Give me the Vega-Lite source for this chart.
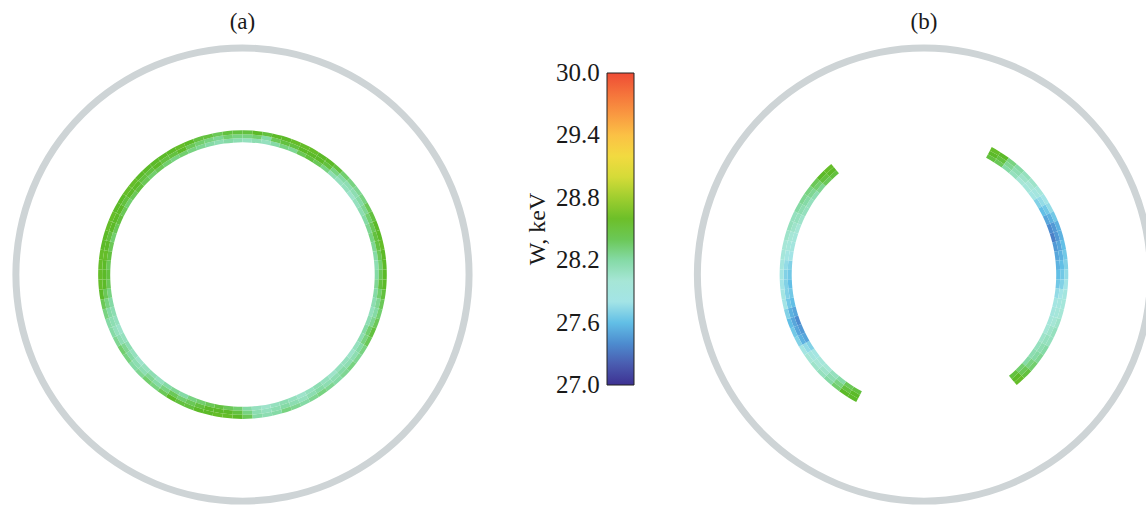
{
"$schema":"https://vega.github.io/schema/vega-lite/v6.json",
"width":1146,"height":508,"padding":0,
"autosize":{"type":"fit","contains":"padding"},
"background":"white",
"config":{"view":{"stroke":null},"font":"Liberation Serif"},
"datasets":{
"panels":[{"p":"(a)"},{"p":"(b)"}],
"ring":[
{"p":"(a)","t":2,"r":46.7,"w":28.1},{"p":"(a)","t":2,"r":48.1,"w":28.3},{"p":"(a)","t":2,"r":49.5,"w":28.45},
{"p":"(a)","t":6,"r":46.7,"w":28.15},{"p":"(a)","t":6,"r":48.1,"w":28.35},{"p":"(a)","t":6,"r":49.5,"w":28.5},
{"p":"(a)","t":10,"r":46.7,"w":28.1},{"p":"(a)","t":10,"r":48.1,"w":28.2},{"p":"(a)","t":10,"r":49.5,"w":28.45},
{"p":"(a)","t":14,"r":46.7,"w":28.2},{"p":"(a)","t":14,"r":48.1,"w":28.4},{"p":"(a)","t":14,"r":49.5,"w":28.5},
{"p":"(a)","t":18,"r":46.7,"w":28.3},{"p":"(a)","t":18,"r":48.1,"w":28.45},{"p":"(a)","t":18,"r":49.5,"w":28.5},
{"p":"(a)","t":22,"r":46.7,"w":28.25},{"p":"(a)","t":22,"r":48.1,"w":28.45},{"p":"(a)","t":22,"r":49.5,"w":28.55},
{"p":"(a)","t":26,"r":46.7,"w":28.4},{"p":"(a)","t":26,"r":48.1,"w":28.5},{"p":"(a)","t":26,"r":49.5,"w":28.55},
{"p":"(a)","t":30,"r":46.7,"w":28.45},{"p":"(a)","t":30,"r":48.1,"w":28.5},{"p":"(a)","t":30,"r":49.5,"w":28.55},
{"p":"(a)","t":34,"r":46.7,"w":28.4},{"p":"(a)","t":34,"r":48.1,"w":28.5},{"p":"(a)","t":34,"r":49.5,"w":28.5},
{"p":"(a)","t":38,"r":46.7,"w":28.3},{"p":"(a)","t":38,"r":48.1,"w":28.45},{"p":"(a)","t":38,"r":49.5,"w":28.5},
{"p":"(a)","t":42,"r":46.7,"w":28.15},{"p":"(a)","t":42,"r":48.1,"w":28.3},{"p":"(a)","t":42,"r":49.5,"w":28.45},
{"p":"(a)","t":46,"r":46.7,"w":28.1},{"p":"(a)","t":46,"r":48.1,"w":28.2},{"p":"(a)","t":46,"r":49.5,"w":28.35},
{"p":"(a)","t":50,"r":46.7,"w":28.1},{"p":"(a)","t":50,"r":48.1,"w":28.15},{"p":"(a)","t":50,"r":49.5,"w":28.3},
{"p":"(a)","t":54,"r":46.7,"w":28.05},{"p":"(a)","t":54,"r":48.1,"w":28.15},{"p":"(a)","t":54,"r":49.5,"w":28.25},
{"p":"(a)","t":58,"r":46.7,"w":28.1},{"p":"(a)","t":58,"r":48.1,"w":28.2},{"p":"(a)","t":58,"r":49.5,"w":28.3},
{"p":"(a)","t":62,"r":46.7,"w":28.15},{"p":"(a)","t":62,"r":48.1,"w":28.25},{"p":"(a)","t":62,"r":49.5,"w":28.4},
{"p":"(a)","t":66,"r":46.7,"w":28.2},{"p":"(a)","t":66,"r":48.1,"w":28.35},{"p":"(a)","t":66,"r":49.5,"w":28.45},
{"p":"(a)","t":70,"r":46.7,"w":28.25},{"p":"(a)","t":70,"r":48.1,"w":28.4},{"p":"(a)","t":70,"r":49.5,"w":28.5},
{"p":"(a)","t":74,"r":46.7,"w":28.3},{"p":"(a)","t":74,"r":48.1,"w":28.45},{"p":"(a)","t":74,"r":49.5,"w":28.5},
{"p":"(a)","t":78,"r":46.7,"w":28.25},{"p":"(a)","t":78,"r":48.1,"w":28.45},{"p":"(a)","t":78,"r":49.5,"w":28.55},
{"p":"(a)","t":82,"r":46.7,"w":28.2},{"p":"(a)","t":82,"r":48.1,"w":28.4},{"p":"(a)","t":82,"r":49.5,"w":28.5},
{"p":"(a)","t":86,"r":46.7,"w":28.15},{"p":"(a)","t":86,"r":48.1,"w":28.35},{"p":"(a)","t":86,"r":49.5,"w":28.5},
{"p":"(a)","t":90,"r":46.7,"w":28.2},{"p":"(a)","t":90,"r":48.1,"w":28.4},{"p":"(a)","t":90,"r":49.5,"w":28.5},
{"p":"(a)","t":94,"r":46.7,"w":28.25},{"p":"(a)","t":94,"r":48.1,"w":28.45},{"p":"(a)","t":94,"r":49.5,"w":28.5},
{"p":"(a)","t":98,"r":46.7,"w":28.2},{"p":"(a)","t":98,"r":48.1,"w":28.35},{"p":"(a)","t":98,"r":49.5,"w":28.45},
{"p":"(a)","t":102,"r":46.7,"w":28.15},{"p":"(a)","t":102,"r":48.1,"w":28.25},{"p":"(a)","t":102,"r":49.5,"w":28.4},
{"p":"(a)","t":106,"r":46.7,"w":28.1},{"p":"(a)","t":106,"r":48.1,"w":28.2},{"p":"(a)","t":106,"r":49.5,"w":28.35},
{"p":"(a)","t":110,"r":46.7,"w":28.15},{"p":"(a)","t":110,"r":48.1,"w":28.25},{"p":"(a)","t":110,"r":49.5,"w":28.4},
{"p":"(a)","t":114,"r":46.7,"w":28.2},{"p":"(a)","t":114,"r":48.1,"w":28.35},{"p":"(a)","t":114,"r":49.5,"w":28.45},
{"p":"(a)","t":118,"r":46.7,"w":28.15},{"p":"(a)","t":118,"r":48.1,"w":28.3},{"p":"(a)","t":118,"r":49.5,"w":28.4},
{"p":"(a)","t":122,"r":46.7,"w":28.1},{"p":"(a)","t":122,"r":48.1,"w":28.2},{"p":"(a)","t":122,"r":49.5,"w":28.3},
{"p":"(a)","t":126,"r":46.7,"w":28.05},{"p":"(a)","t":126,"r":48.1,"w":28.15},{"p":"(a)","t":126,"r":49.5,"w":28.25},
{"p":"(a)","t":130,"r":46.7,"w":28.1},{"p":"(a)","t":130,"r":48.1,"w":28.15},{"p":"(a)","t":130,"r":49.5,"w":28.3},
{"p":"(a)","t":134,"r":46.7,"w":28.1},{"p":"(a)","t":134,"r":48.1,"w":28.2},{"p":"(a)","t":134,"r":49.5,"w":28.25},
{"p":"(a)","t":138,"r":46.7,"w":28.05},{"p":"(a)","t":138,"r":48.1,"w":28.15},{"p":"(a)","t":138,"r":49.5,"w":28.2},
{"p":"(a)","t":142,"r":46.7,"w":28.1},{"p":"(a)","t":142,"r":48.1,"w":28.15},{"p":"(a)","t":142,"r":49.5,"w":28.25},
{"p":"(a)","t":146,"r":46.7,"w":28.15},{"p":"(a)","t":146,"r":48.1,"w":28.2},{"p":"(a)","t":146,"r":49.5,"w":28.3},
{"p":"(a)","t":150,"r":46.7,"w":28.1},{"p":"(a)","t":150,"r":48.1,"w":28.15},{"p":"(a)","t":150,"r":49.5,"w":28.25},
{"p":"(a)","t":154,"r":46.7,"w":28.05},{"p":"(a)","t":154,"r":48.1,"w":28.1},{"p":"(a)","t":154,"r":49.5,"w":28.2},
{"p":"(a)","t":158,"r":46.7,"w":28.1},{"p":"(a)","t":158,"r":48.1,"w":28.15},{"p":"(a)","t":158,"r":49.5,"w":28.25},
{"p":"(a)","t":162,"r":46.7,"w":28.15},{"p":"(a)","t":162,"r":48.1,"w":28.2},{"p":"(a)","t":162,"r":49.5,"w":28.3},
{"p":"(a)","t":166,"r":46.7,"w":28.1},{"p":"(a)","t":166,"r":48.1,"w":28.15},{"p":"(a)","t":166,"r":49.5,"w":28.2},
{"p":"(a)","t":170,"r":46.7,"w":28.05},{"p":"(a)","t":170,"r":48.1,"w":28.1},{"p":"(a)","t":170,"r":49.5,"w":28.15},
{"p":"(a)","t":174,"r":46.7,"w":28.1},{"p":"(a)","t":174,"r":48.1,"w":28.15},{"p":"(a)","t":174,"r":49.5,"w":28.2},
{"p":"(a)","t":178,"r":46.7,"w":28.2},{"p":"(a)","t":178,"r":48.1,"w":28.3},{"p":"(a)","t":178,"r":49.5,"w":28.4},
{"p":"(a)","t":182,"r":46.7,"w":28.35},{"p":"(a)","t":182,"r":48.1,"w":28.45},{"p":"(a)","t":182,"r":49.5,"w":28.5},
{"p":"(a)","t":186,"r":46.7,"w":28.4},{"p":"(a)","t":186,"r":48.1,"w":28.5},{"p":"(a)","t":186,"r":49.5,"w":28.55},
{"p":"(a)","t":190,"r":46.7,"w":28.45},{"p":"(a)","t":190,"r":48.1,"w":28.5},{"p":"(a)","t":190,"r":49.5,"w":28.55},
{"p":"(a)","t":194,"r":46.7,"w":28.4},{"p":"(a)","t":194,"r":48.1,"w":28.5},{"p":"(a)","t":194,"r":49.5,"w":28.5},
{"p":"(a)","t":198,"r":46.7,"w":28.35},{"p":"(a)","t":198,"r":48.1,"w":28.45},{"p":"(a)","t":198,"r":49.5,"w":28.5},
{"p":"(a)","t":202,"r":46.7,"w":28.3},{"p":"(a)","t":202,"r":48.1,"w":28.4},{"p":"(a)","t":202,"r":49.5,"w":28.45},
{"p":"(a)","t":206,"r":46.7,"w":28.2},{"p":"(a)","t":206,"r":48.1,"w":28.35},{"p":"(a)","t":206,"r":49.5,"w":28.45},
{"p":"(a)","t":210,"r":46.7,"w":28.25},{"p":"(a)","t":210,"r":48.1,"w":28.4},{"p":"(a)","t":210,"r":49.5,"w":28.5},
{"p":"(a)","t":214,"r":46.7,"w":28.2},{"p":"(a)","t":214,"r":48.1,"w":28.3},{"p":"(a)","t":214,"r":49.5,"w":28.4},
{"p":"(a)","t":218,"r":46.7,"w":28.1},{"p":"(a)","t":218,"r":48.1,"w":28.2},{"p":"(a)","t":218,"r":49.5,"w":28.3},
{"p":"(a)","t":222,"r":46.7,"w":28.15},{"p":"(a)","t":222,"r":48.1,"w":28.25},{"p":"(a)","t":222,"r":49.5,"w":28.35},
{"p":"(a)","t":226,"r":46.7,"w":28.1},{"p":"(a)","t":226,"r":48.1,"w":28.15},{"p":"(a)","t":226,"r":49.5,"w":28.25},
{"p":"(a)","t":230,"r":46.7,"w":28.05},{"p":"(a)","t":230,"r":48.1,"w":28.15},{"p":"(a)","t":230,"r":49.5,"w":28.2},
{"p":"(a)","t":234,"r":46.7,"w":28.1},{"p":"(a)","t":234,"r":48.1,"w":28.2},{"p":"(a)","t":234,"r":49.5,"w":28.3},
{"p":"(a)","t":238,"r":46.7,"w":28.15},{"p":"(a)","t":238,"r":48.1,"w":28.25},{"p":"(a)","t":238,"r":49.5,"w":28.35},
{"p":"(a)","t":242,"r":46.7,"w":28.1},{"p":"(a)","t":242,"r":48.1,"w":28.15},{"p":"(a)","t":242,"r":49.5,"w":28.25},
{"p":"(a)","t":246,"r":46.7,"w":28.05},{"p":"(a)","t":246,"r":48.1,"w":28.1},{"p":"(a)","t":246,"r":49.5,"w":28.2},
{"p":"(a)","t":250,"r":46.7,"w":28.1},{"p":"(a)","t":250,"r":48.1,"w":28.15},{"p":"(a)","t":250,"r":49.5,"w":28.2},
{"p":"(a)","t":254,"r":46.7,"w":28.15},{"p":"(a)","t":254,"r":48.1,"w":28.2},{"p":"(a)","t":254,"r":49.5,"w":28.3},
{"p":"(a)","t":258,"r":46.7,"w":28.2},{"p":"(a)","t":258,"r":48.1,"w":28.3},{"p":"(a)","t":258,"r":49.5,"w":28.4},
{"p":"(a)","t":262,"r":46.7,"w":28.3},{"p":"(a)","t":262,"r":48.1,"w":28.4},{"p":"(a)","t":262,"r":49.5,"w":28.5},
{"p":"(a)","t":266,"r":46.7,"w":28.4},{"p":"(a)","t":266,"r":48.1,"w":28.5},{"p":"(a)","t":266,"r":49.5,"w":28.55},
{"p":"(a)","t":270,"r":46.7,"w":28.45},{"p":"(a)","t":270,"r":48.1,"w":28.5},{"p":"(a)","t":270,"r":49.5,"w":28.55},
{"p":"(a)","t":274,"r":46.7,"w":28.4},{"p":"(a)","t":274,"r":48.1,"w":28.5},{"p":"(a)","t":274,"r":49.5,"w":28.55},
{"p":"(a)","t":278,"r":46.7,"w":28.45},{"p":"(a)","t":278,"r":48.1,"w":28.55},{"p":"(a)","t":278,"r":49.5,"w":28.55},
{"p":"(a)","t":282,"r":46.7,"w":28.4},{"p":"(a)","t":282,"r":48.1,"w":28.5},{"p":"(a)","t":282,"r":49.5,"w":28.5},
{"p":"(a)","t":286,"r":46.7,"w":28.35},{"p":"(a)","t":286,"r":48.1,"w":28.45},{"p":"(a)","t":286,"r":49.5,"w":28.5},
{"p":"(a)","t":290,"r":46.7,"w":28.4},{"p":"(a)","t":290,"r":48.1,"w":28.5},{"p":"(a)","t":290,"r":49.5,"w":28.55},
{"p":"(a)","t":294,"r":46.7,"w":28.45},{"p":"(a)","t":294,"r":48.1,"w":28.5},{"p":"(a)","t":294,"r":49.5,"w":28.55},
{"p":"(a)","t":298,"r":46.7,"w":28.4},{"p":"(a)","t":298,"r":48.1,"w":28.5},{"p":"(a)","t":298,"r":49.5,"w":28.5},
{"p":"(a)","t":302,"r":46.7,"w":28.35},{"p":"(a)","t":302,"r":48.1,"w":28.45},{"p":"(a)","t":302,"r":49.5,"w":28.5},
{"p":"(a)","t":306,"r":46.7,"w":28.4},{"p":"(a)","t":306,"r":48.1,"w":28.5},{"p":"(a)","t":306,"r":49.5,"w":28.55},
{"p":"(a)","t":310,"r":46.7,"w":28.45},{"p":"(a)","t":310,"r":48.1,"w":28.5},{"p":"(a)","t":310,"r":49.5,"w":28.55},
{"p":"(a)","t":314,"r":46.7,"w":28.4},{"p":"(a)","t":314,"r":48.1,"w":28.45},{"p":"(a)","t":314,"r":49.5,"w":28.5},
{"p":"(a)","t":318,"r":46.7,"w":28.35},{"p":"(a)","t":318,"r":48.1,"w":28.45},{"p":"(a)","t":318,"r":49.5,"w":28.5},
{"p":"(a)","t":322,"r":46.7,"w":28.4},{"p":"(a)","t":322,"r":48.1,"w":28.5},{"p":"(a)","t":322,"r":49.5,"w":28.5},
{"p":"(a)","t":326,"r":46.7,"w":28.35},{"p":"(a)","t":326,"r":48.1,"w":28.45},{"p":"(a)","t":326,"r":49.5,"w":28.5},
{"p":"(a)","t":330,"r":46.7,"w":28.3},{"p":"(a)","t":330,"r":48.1,"w":28.45},{"p":"(a)","t":330,"r":49.5,"w":28.5},
{"p":"(a)","t":334,"r":46.7,"w":28.35},{"p":"(a)","t":334,"r":48.1,"w":28.5},{"p":"(a)","t":334,"r":49.5,"w":28.55},
{"p":"(a)","t":338,"r":46.7,"w":28.3},{"p":"(a)","t":338,"r":48.1,"w":28.4},{"p":"(a)","t":338,"r":49.5,"w":28.5},
{"p":"(a)","t":342,"r":46.7,"w":28.25},{"p":"(a)","t":342,"r":48.1,"w":28.35},{"p":"(a)","t":342,"r":49.5,"w":28.45},
{"p":"(a)","t":346,"r":46.7,"w":28.2},{"p":"(a)","t":346,"r":48.1,"w":28.3},{"p":"(a)","t":346,"r":49.5,"w":28.45},
{"p":"(a)","t":350,"r":46.7,"w":28.15},{"p":"(a)","t":350,"r":48.1,"w":28.25},{"p":"(a)","t":350,"r":49.5,"w":28.4},
{"p":"(a)","t":354,"r":46.7,"w":28.2},{"p":"(a)","t":354,"r":48.1,"w":28.35},{"p":"(a)","t":354,"r":49.5,"w":28.45},
{"p":"(a)","t":358,"r":46.7,"w":28.15},{"p":"(a)","t":358,"r":48.1,"w":28.3},{"p":"(a)","t":358,"r":49.5,"w":28.45},
{"p":"(b)","t":30,"r":46.7,"w":28.45},{"p":"(b)","t":30,"r":48.1,"w":28.5},{"p":"(b)","t":30,"r":49.5,"w":28.55},
{"p":"(b)","t":34,"r":46.7,"w":28.4},{"p":"(b)","t":34,"r":48.1,"w":28.45},{"p":"(b)","t":34,"r":49.5,"w":28.5},
{"p":"(b)","t":38,"r":46.7,"w":28.2},{"p":"(b)","t":38,"r":48.1,"w":28.25},{"p":"(b)","t":38,"r":49.5,"w":28.3},
{"p":"(b)","t":42,"r":46.7,"w":28.1},{"p":"(b)","t":42,"r":48.1,"w":28.15},{"p":"(b)","t":42,"r":49.5,"w":28.2},
{"p":"(b)","t":46,"r":46.7,"w":28.0},{"p":"(b)","t":46,"r":48.1,"w":28.05},{"p":"(b)","t":46,"r":49.5,"w":28.1},
{"p":"(b)","t":50,"r":46.7,"w":27.95},{"p":"(b)","t":50,"r":48.1,"w":28.0},{"p":"(b)","t":50,"r":49.5,"w":28.05},
{"p":"(b)","t":54,"r":46.7,"w":27.85},{"p":"(b)","t":54,"r":48.1,"w":27.9},{"p":"(b)","t":54,"r":49.5,"w":27.95},
{"p":"(b)","t":58,"r":46.7,"w":27.7},{"p":"(b)","t":58,"r":48.1,"w":27.75},{"p":"(b)","t":58,"r":49.5,"w":27.8},
{"p":"(b)","t":62,"r":46.7,"w":27.6},{"p":"(b)","t":62,"r":48.1,"w":27.65},{"p":"(b)","t":62,"r":49.5,"w":27.75},
{"p":"(b)","t":66,"r":46.7,"w":27.5},{"p":"(b)","t":66,"r":48.1,"w":27.55},{"p":"(b)","t":66,"r":49.5,"w":27.65},
{"p":"(b)","t":70,"r":46.7,"w":27.4},{"p":"(b)","t":70,"r":48.1,"w":27.45},{"p":"(b)","t":70,"r":49.5,"w":27.55},
{"p":"(b)","t":74,"r":46.7,"w":27.35},{"p":"(b)","t":74,"r":48.1,"w":27.45},{"p":"(b)","t":74,"r":49.5,"w":27.55},
{"p":"(b)","t":78,"r":46.7,"w":27.45},{"p":"(b)","t":78,"r":48.1,"w":27.5},{"p":"(b)","t":78,"r":49.5,"w":27.6},
{"p":"(b)","t":82,"r":46.7,"w":27.5},{"p":"(b)","t":82,"r":48.1,"w":27.55},{"p":"(b)","t":82,"r":49.5,"w":27.65},
{"p":"(b)","t":86,"r":46.7,"w":27.55},{"p":"(b)","t":86,"r":48.1,"w":27.6},{"p":"(b)","t":86,"r":49.5,"w":27.7},
{"p":"(b)","t":90,"r":46.7,"w":27.6},{"p":"(b)","t":90,"r":48.1,"w":27.65},{"p":"(b)","t":90,"r":49.5,"w":27.75},
{"p":"(b)","t":94,"r":46.7,"w":27.65},{"p":"(b)","t":94,"r":48.1,"w":27.7},{"p":"(b)","t":94,"r":49.5,"w":27.8},
{"p":"(b)","t":98,"r":46.7,"w":27.75},{"p":"(b)","t":98,"r":48.1,"w":27.8},{"p":"(b)","t":98,"r":49.5,"w":27.9},
{"p":"(b)","t":102,"r":46.7,"w":27.85},{"p":"(b)","t":102,"r":48.1,"w":27.9},{"p":"(b)","t":102,"r":49.5,"w":27.95},
{"p":"(b)","t":106,"r":46.7,"w":27.9},{"p":"(b)","t":106,"r":48.1,"w":27.95},{"p":"(b)","t":106,"r":49.5,"w":28.0},
{"p":"(b)","t":110,"r":46.7,"w":27.95},{"p":"(b)","t":110,"r":48.1,"w":28.0},{"p":"(b)","t":110,"r":49.5,"w":28.05},
{"p":"(b)","t":114,"r":46.7,"w":28.0},{"p":"(b)","t":114,"r":48.1,"w":28.05},{"p":"(b)","t":114,"r":49.5,"w":28.1},
{"p":"(b)","t":118,"r":46.7,"w":28.05},{"p":"(b)","t":118,"r":48.1,"w":28.1},{"p":"(b)","t":118,"r":49.5,"w":28.1},
{"p":"(b)","t":122,"r":46.7,"w":28.1},{"p":"(b)","t":122,"r":48.1,"w":28.15},{"p":"(b)","t":122,"r":49.5,"w":28.2},
{"p":"(b)","t":126,"r":46.7,"w":28.15},{"p":"(b)","t":126,"r":48.1,"w":28.2},{"p":"(b)","t":126,"r":49.5,"w":28.25},
{"p":"(b)","t":130,"r":46.7,"w":28.2},{"p":"(b)","t":130,"r":48.1,"w":28.3},{"p":"(b)","t":130,"r":49.5,"w":28.35},
{"p":"(b)","t":134,"r":46.7,"w":28.35},{"p":"(b)","t":134,"r":48.1,"w":28.4},{"p":"(b)","t":134,"r":49.5,"w":28.45},
{"p":"(b)","t":138,"r":46.7,"w":28.45},{"p":"(b)","t":138,"r":48.1,"w":28.5},{"p":"(b)","t":138,"r":49.5,"w":28.55},
{"p":"(b)","t":210,"r":46.7,"w":28.45},{"p":"(b)","t":210,"r":48.1,"w":28.5},{"p":"(b)","t":210,"r":49.5,"w":28.5},
{"p":"(b)","t":214,"r":46.7,"w":28.4},{"p":"(b)","t":214,"r":48.1,"w":28.45},{"p":"(b)","t":214,"r":49.5,"w":28.5},
{"p":"(b)","t":218,"r":46.7,"w":28.2},{"p":"(b)","t":218,"r":48.1,"w":28.3},{"p":"(b)","t":218,"r":49.5,"w":28.35},
{"p":"(b)","t":222,"r":46.7,"w":28.1},{"p":"(b)","t":222,"r":48.1,"w":28.15},{"p":"(b)","t":222,"r":49.5,"w":28.2},
{"p":"(b)","t":226,"r":46.7,"w":28.0},{"p":"(b)","t":226,"r":48.1,"w":28.05},{"p":"(b)","t":226,"r":49.5,"w":28.1},
{"p":"(b)","t":230,"r":46.7,"w":27.95},{"p":"(b)","t":230,"r":48.1,"w":28.0},{"p":"(b)","t":230,"r":49.5,"w":28.05},
{"p":"(b)","t":234,"r":46.7,"w":27.85},{"p":"(b)","t":234,"r":48.1,"w":27.9},{"p":"(b)","t":234,"r":49.5,"w":28.0},
{"p":"(b)","t":238,"r":46.7,"w":27.7},{"p":"(b)","t":238,"r":48.1,"w":27.75},{"p":"(b)","t":238,"r":49.5,"w":27.85},
{"p":"(b)","t":242,"r":46.7,"w":27.5},{"p":"(b)","t":242,"r":48.1,"w":27.55},{"p":"(b)","t":242,"r":49.5,"w":27.7},
{"p":"(b)","t":246,"r":46.7,"w":27.45},{"p":"(b)","t":246,"r":48.1,"w":27.5},{"p":"(b)","t":246,"r":49.5,"w":27.65},
{"p":"(b)","t":250,"r":46.7,"w":27.4},{"p":"(b)","t":250,"r":48.1,"w":27.5},{"p":"(b)","t":250,"r":49.5,"w":27.6},
{"p":"(b)","t":254,"r":46.7,"w":27.5},{"p":"(b)","t":254,"r":48.1,"w":27.55},{"p":"(b)","t":254,"r":49.5,"w":27.7},
{"p":"(b)","t":258,"r":46.7,"w":27.6},{"p":"(b)","t":258,"r":48.1,"w":27.65},{"p":"(b)","t":258,"r":49.5,"w":27.8},
{"p":"(b)","t":262,"r":46.7,"w":27.65},{"p":"(b)","t":262,"r":48.1,"w":27.7},{"p":"(b)","t":262,"r":49.5,"w":27.85},
{"p":"(b)","t":266,"r":46.7,"w":27.6},{"p":"(b)","t":266,"r":48.1,"w":27.7},{"p":"(b)","t":266,"r":49.5,"w":27.8},
{"p":"(b)","t":270,"r":46.7,"w":27.65},{"p":"(b)","t":270,"r":48.1,"w":27.7},{"p":"(b)","t":270,"r":49.5,"w":27.85},
{"p":"(b)","t":274,"r":46.7,"w":27.7},{"p":"(b)","t":274,"r":48.1,"w":27.75},{"p":"(b)","t":274,"r":49.5,"w":27.9},
{"p":"(b)","t":278,"r":46.7,"w":27.8},{"p":"(b)","t":278,"r":48.1,"w":27.85},{"p":"(b)","t":278,"r":49.5,"w":27.95},
{"p":"(b)","t":282,"r":46.7,"w":27.9},{"p":"(b)","t":282,"r":48.1,"w":27.95},{"p":"(b)","t":282,"r":49.5,"w":28.0},
{"p":"(b)","t":286,"r":46.7,"w":27.95},{"p":"(b)","t":286,"r":48.1,"w":28.0},{"p":"(b)","t":286,"r":49.5,"w":28.05},
{"p":"(b)","t":290,"r":46.7,"w":28.0},{"p":"(b)","t":290,"r":48.1,"w":28.05},{"p":"(b)","t":290,"r":49.5,"w":28.1},
{"p":"(b)","t":294,"r":46.7,"w":28.05},{"p":"(b)","t":294,"r":48.1,"w":28.1},{"p":"(b)","t":294,"r":49.5,"w":28.1},
{"p":"(b)","t":298,"r":46.7,"w":28.1},{"p":"(b)","t":298,"r":48.1,"w":28.15},{"p":"(b)","t":298,"r":49.5,"w":28.2},
{"p":"(b)","t":302,"r":46.7,"w":28.1},{"p":"(b)","t":302,"r":48.1,"w":28.2},{"p":"(b)","t":302,"r":49.5,"w":28.25},
{"p":"(b)","t":306,"r":46.7,"w":28.15},{"p":"(b)","t":306,"r":48.1,"w":28.25},{"p":"(b)","t":306,"r":49.5,"w":28.3},
{"p":"(b)","t":310,"r":46.7,"w":28.25},{"p":"(b)","t":310,"r":48.1,"w":28.35},{"p":"(b)","t":310,"r":49.5,"w":28.4},
{"p":"(b)","t":314,"r":46.7,"w":28.4},{"p":"(b)","t":314,"r":48.1,"w":28.45},{"p":"(b)","t":314,"r":49.5,"w":28.5},
{"p":"(b)","t":318,"r":46.7,"w":28.45},{"p":"(b)","t":318,"r":48.1,"w":28.5},{"p":"(b)","t":318,"r":49.5,"w":28.55}
]},
"layer":[
{"data":{"name":"panels"},
 "mark":{"type":"arc","theta":0,"theta2":6.2832,"color":"#ced4d6","clip":true},
 "encoding":{
  "x":{"field":"p","type":"nominal","scale":{"type":"point","domain":["(a)","(b)"],"padding":0.3408,"align":0.522},"axis":null},
  "y":{"datum":0,"type":"quantitative","scale":{"domain":[-81.2,95.5],"nice":false,"zero":false},"axis":null},
  "radius":{"datum":77.6,"type":"quantitative","scale":{"type":"linear","domain":[0,80],"range":[0,230],"zero":true}},
  "radius2":{"datum":80}
 }},
{"data":{"name":"ring"},
 "mark":{"type":"arc","clip":true},
 "encoding":{
  "x":{"field":"p","type":"nominal","axis":null},
  "y":{"datum":0,"type":"quantitative","axis":null},
  "theta":{"field":"t","type":"quantitative","bin":{"step":4,"extent":[0,360],"nice":false},"scale":{"domain":[0,360],"range":[0,6.283185307179586]}},
  "radius":{"field":"r","type":"quantitative","bin":{"step":1.4,"extent":[46,50.2],"nice":false}},
  "color":{"field":"w","type":"quantitative",
   "scale":{"domain":[27.0,27.2,27.4,27.6,27.8,28.0,28.2,28.35,28.5,28.7,28.9,29.1,29.3,29.5,29.7,30.0],
            "range":["#3d3192","#4a5cb0","#4d8ccf","#62bfe6","#a3e4e6","#a6e6d6","#85daa6","#72cf6e","#5cba28","#7ec42a","#c0d733","#eadf3c","#fad545","#fbad45","#f8863e","#ee4c35"],"interpolate":"rgb"},
   "legend":{"orient":"none","legendX":526,"legendY":73,"direction":"vertical","gradientLength":312,"gradientThickness":27,
     "gradientStrokeColor":"#222222","gradientStrokeWidth":1,
     "values":[27.0001,27.6,28.2,28.8,29.4,29.9999],"format":".1f",
     "labelOffset":-78,"labelBaseline":"middle","labelFont":"Liberation Serif","labelFontSize":25,"labelColor":"#1a1a1a",
     "title":"W, keV","titleOrient":"left","titleFont":"Liberation Serif","titleFontSize":24,"titleFontWeight":"normal","titleColor":"#1a1a1a","titleAnchor":"middle","titlePadding":56}}
 }},
{"data":{"name":"panels"},
 "mark":{"type":"text","font":"Liberation Serif","fontSize":23,"color":"#1a1a1a","baseline":"middle"},
 "encoding":{
  "x":{"field":"p","type":"nominal","axis":null},
  "y":{"datum":88,"type":"quantitative"},
  "text":{"field":"p"}
 }}
]
}
